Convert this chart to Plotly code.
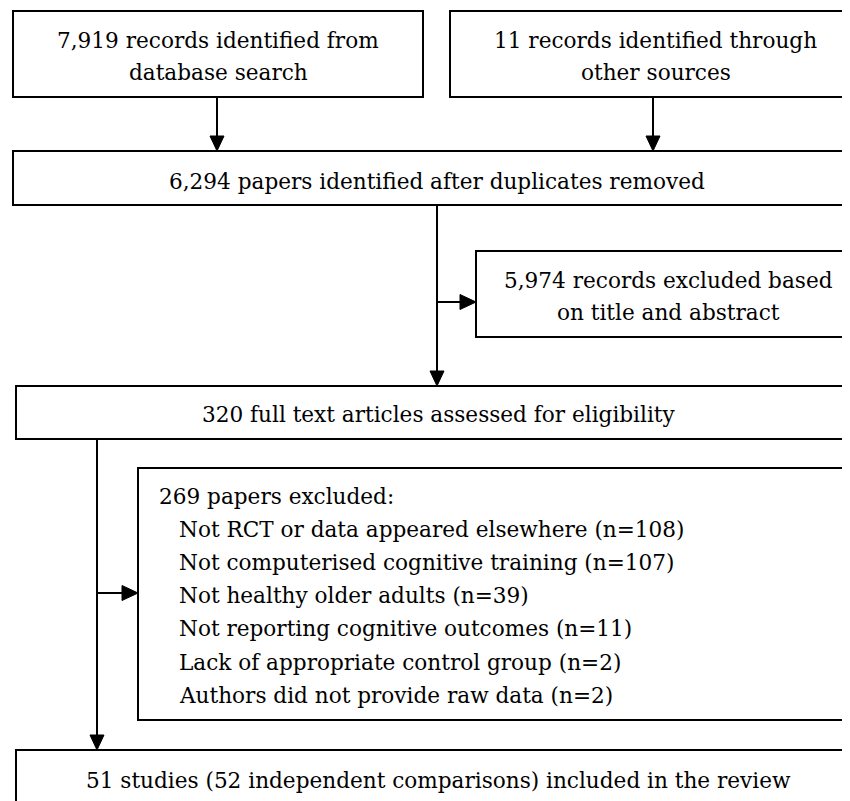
import plotly.graph_objects as go

# ---- content (texts) ----
top_left_lines = ["7,919 records identified from", "database search"]
top_right_lines = ["11 records identified through", "other sources"]
dedup_text = "6,294 papers identified after duplicates removed"
screen_excl_lines = ["5,974 records excluded based", "on title and abstract"]
fulltext_text = "320 full text articles assessed for eligibility"
excl_header = "269 papers excluded:"
excl_reasons = [
    "Not RCT or data appeared elsewhere (n=108)",
    "Not computerised cognitive training (n=107)",
    "Not healthy older adults (n=39)",
    "Not reporting cognitive outcomes (n=11)",
    "Lack of appropriate control group (n=2)",
    "Authors did not provide raw data (n=2)",
]
final_text = "51 studies (52 independent comparisons) included in the review"

# ---- layout geometry (screen pixels) ----
W, H = 850, 801
OFF = 8  # page body margin
RIGHT = 861
FONT = dict(family="DejaVu Serif", size=21.6, color="black")
LW = 2

boxes = {
    "tl": (13, 11, 423, 97),
    "tr": (450, 11, RIGHT, 97),
    "dedup": (13, 151, RIGHT, 205),
    "screen": (476, 251, RIGHT, 337),
    "full": (16, 386, RIGHT, 439),
    "excl": (138, 468, RIGHT, 720),
    "final": (16, 750, RIGHT, 820),
}

fig = go.Figure()
shapes = []
annotations = []

for (x0, y0, x1, y1) in boxes.values():
    shapes.append(dict(type="rect", x0=x0, y0=y0, x1=x1, y1=y1,
                       line=dict(color="black", width=LW), fillcolor="white", layer="below"))

def vline(x, y0, y1):
    shapes.append(dict(type="line", x0=x, x1=x, y0=y0, y1=y1, line=dict(color="black", width=LW)))

def hline(y, x0, x1):
    shapes.append(dict(type="line", x0=x0, x1=x1, y0=y, y1=y, line=dict(color="black", width=LW)))

def head_down(x, ytip, w=7, h=15):
    shapes.append(dict(type="path", path=f"M {x-w},{ytip-h} L {x+w},{ytip-h} L {x},{ytip} Z",
                       fillcolor="black", line=dict(color="black", width=1)))

def head_right(xtip, y, w=7.5, h=16):
    shapes.append(dict(type="path", path=f"M {xtip-h},{y-w} L {xtip-h},{y+w} L {xtip},{y} Z",
                       fillcolor="black", line=dict(color="black", width=1)))

# arrows
vline(217, 97, 140); head_down(217, 151)
vline(653, 97, 140); head_down(653, 151)
vline(437, 205, 375); head_down(437, 386)
hline(302, 437, 462); head_right(476, 302)
vline(97, 439, 739); head_down(97, 750)
hline(593, 97, 124); head_right(138, 593)

def text(x, y, s, xanchor="center"):
    annotations.append(dict(x=x, y=y, text=s, showarrow=False, xanchor=xanchor,
                            yanchor="middle", font=FONT, xref="x", yref="y"))

cx = lambda b: (boxes[b][0] + boxes[b][2]) / 2
for i, s in enumerate(top_left_lines):
    text(cx("tl"), 40 + 32 * i, s)
for i, s in enumerate(top_right_lines):
    text(cx("tr"), 40 + 32 * i, s)
text(cx("dedup"), 181, dedup_text)
for i, s in enumerate(screen_excl_lines):
    text(cx("screen"), 280 + 32 * i, s)
text(cx("full"), 414, fulltext_text)
text(157, 496, excl_header, xanchor="left")
for i, s in enumerate(excl_reasons):
    text(177, 529 + 33.3 * i, s, xanchor="left")
text(cx("final"), 780, final_text)

fig.update_layout(
    width=W, height=H,
    margin=dict(l=0, r=0, t=0, b=0),
    paper_bgcolor="white", plot_bgcolor="white",
    font=FONT,
    xaxis=dict(range=[OFF, W + OFF], visible=False, fixedrange=True),
    yaxis=dict(range=[H + OFF, OFF], visible=False, fixedrange=True),
    shapes=shapes, annotations=annotations, showlegend=False,
)
fig.write_html("out.html")
